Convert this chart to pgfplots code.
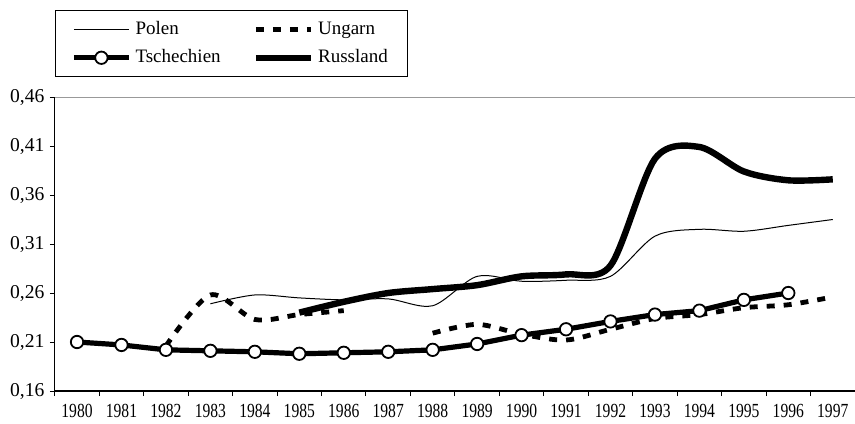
\documentclass[border=0pt]{standalone}
\usepackage{fontspec}
\setmainfont{Liberation Serif}
\newfontfamily\condfont[FakeStretch=0.78]{Liberation Serif}
\usepackage{pgfplots}
\pgfplotsset{compat=1.18}
\begin{document}
\begin{tikzpicture}
\useasboundingbox (0,0) rectangle (427.5pt,211.5pt);
\begin{axis}[
  at={(27.4pt,16pt)}, anchor=south west,
  scale only axis, width=400.1pt, height=147pt,
  xmin=-0.5, xmax=17.5, ymin=0.16, ymax=0.46,
  axis x line*=bottom, axis y line*=left,
  axis line style={-, line width=0.6pt},
  tick align=outside,
  xtick={0,...,17},
  xticklabels={1980,1981,1982,1983,1984,1985,1986,1987,1988,1989,1990,1991,1992,1993,1994,1995,1996,1997},
  major x tick style={draw=none},
  minor xtick={-0.5,0.5,...,17.5},
  minor x tick style={draw=black, line width=0.5pt},
  minor tick length=2.5pt,
  major tick length=2.5pt,
  ytick={0.16,0.21,0.26,0.31,0.36,0.41,0.46},
  yticklabels={{0,16},{0,21},{0,26},{0,31},{0,36},{0,41},{0,46}},
  y tick style={line width=0.5pt, black},
  extra y ticks={0.46}, extra y tick labels={},
  extra y tick style={grid=major, major grid style={gray!80, line width=0.5pt}},
  yticklabel style={font=\fontsize{9.8}{11}\selectfont, inner sep=1pt, xshift=-1.5pt},
  xticklabel style={font=\condfont\fontsize{10}{11}\selectfont, inner sep=1pt, yshift=-3pt},
  legend columns=2,
  legend cell align=left,
  legend image code/.code={\draw[mark repeat=2,mark phase=2,#1] plot coordinates {(0pt,0pt) (13.75pt,0pt) (27.5pt,0pt)};},
  legend style={at={(0,1.296)}, anchor=north west, draw=black, line width=0.5pt,
    font=\fontsize{9.5}{11}\selectfont, inner xsep=8pt, inner ysep=3.5pt, row sep=2pt,
    /tikz/every even column/.append style={column sep=14pt}},
]
\addplot[black, line width=0.5pt, smooth, tension=0.5] coordinates {
 (3,0.249) (4,0.258) (5,0.255) (6,0.253) (7,0.254) (8,0.247) (9,0.277) (10,0.272)
 (11,0.273) (12,0.277) (13,0.318) (14,0.325) (15,0.323) (16,0.329) (17,0.335)};
\addlegendentry{Polen}
\addplot[black, line width=2.4pt, dash pattern=on 4pt off 4.5pt, smooth, tension=0.5] coordinates {
 (2,0.206) (3,0.258) (4,0.233) (5,0.238) (6,0.242)};
\addlegendentry{Ungarn}
\addplot[black, line width=2.6pt, mark=*, mark size=3.1pt,
  mark options={fill=white, draw=black, line width=0.9pt, solid}] coordinates {
 (0,0.210) (1,0.207) (2,0.202) (3,0.201) (4,0.200) (5,0.198) (6,0.199) (7,0.200)
 (8,0.202) (9,0.208) (10,0.217) (11,0.223) (12,0.231) (13,0.238) (14,0.242) (15,0.253) (16,0.260)};
\addlegendentry{Tschechien}
\addplot[black, line width=3.2pt, smooth, tension=0.5] coordinates {
 (5,0.240) (6,0.251) (7,0.260) (8,0.264) (9,0.268) (10,0.277) (11,0.279) (12,0.288)
 (13,0.397) (14,0.409) (15,0.384) (16,0.375) (17,0.376)};
\addlegendentry{Russland}
\addplot[black, line width=2.4pt, dash pattern=on 4pt off 4.5pt, smooth, tension=0.5, forget plot] coordinates {
 (8,0.219) (9,0.228) (10,0.218) (11,0.212) (12,0.223) (13,0.234) (14,0.238) (15,0.245) (16,0.248) (17,0.256)};
\end{axis}
\end{tikzpicture}
\end{document}
